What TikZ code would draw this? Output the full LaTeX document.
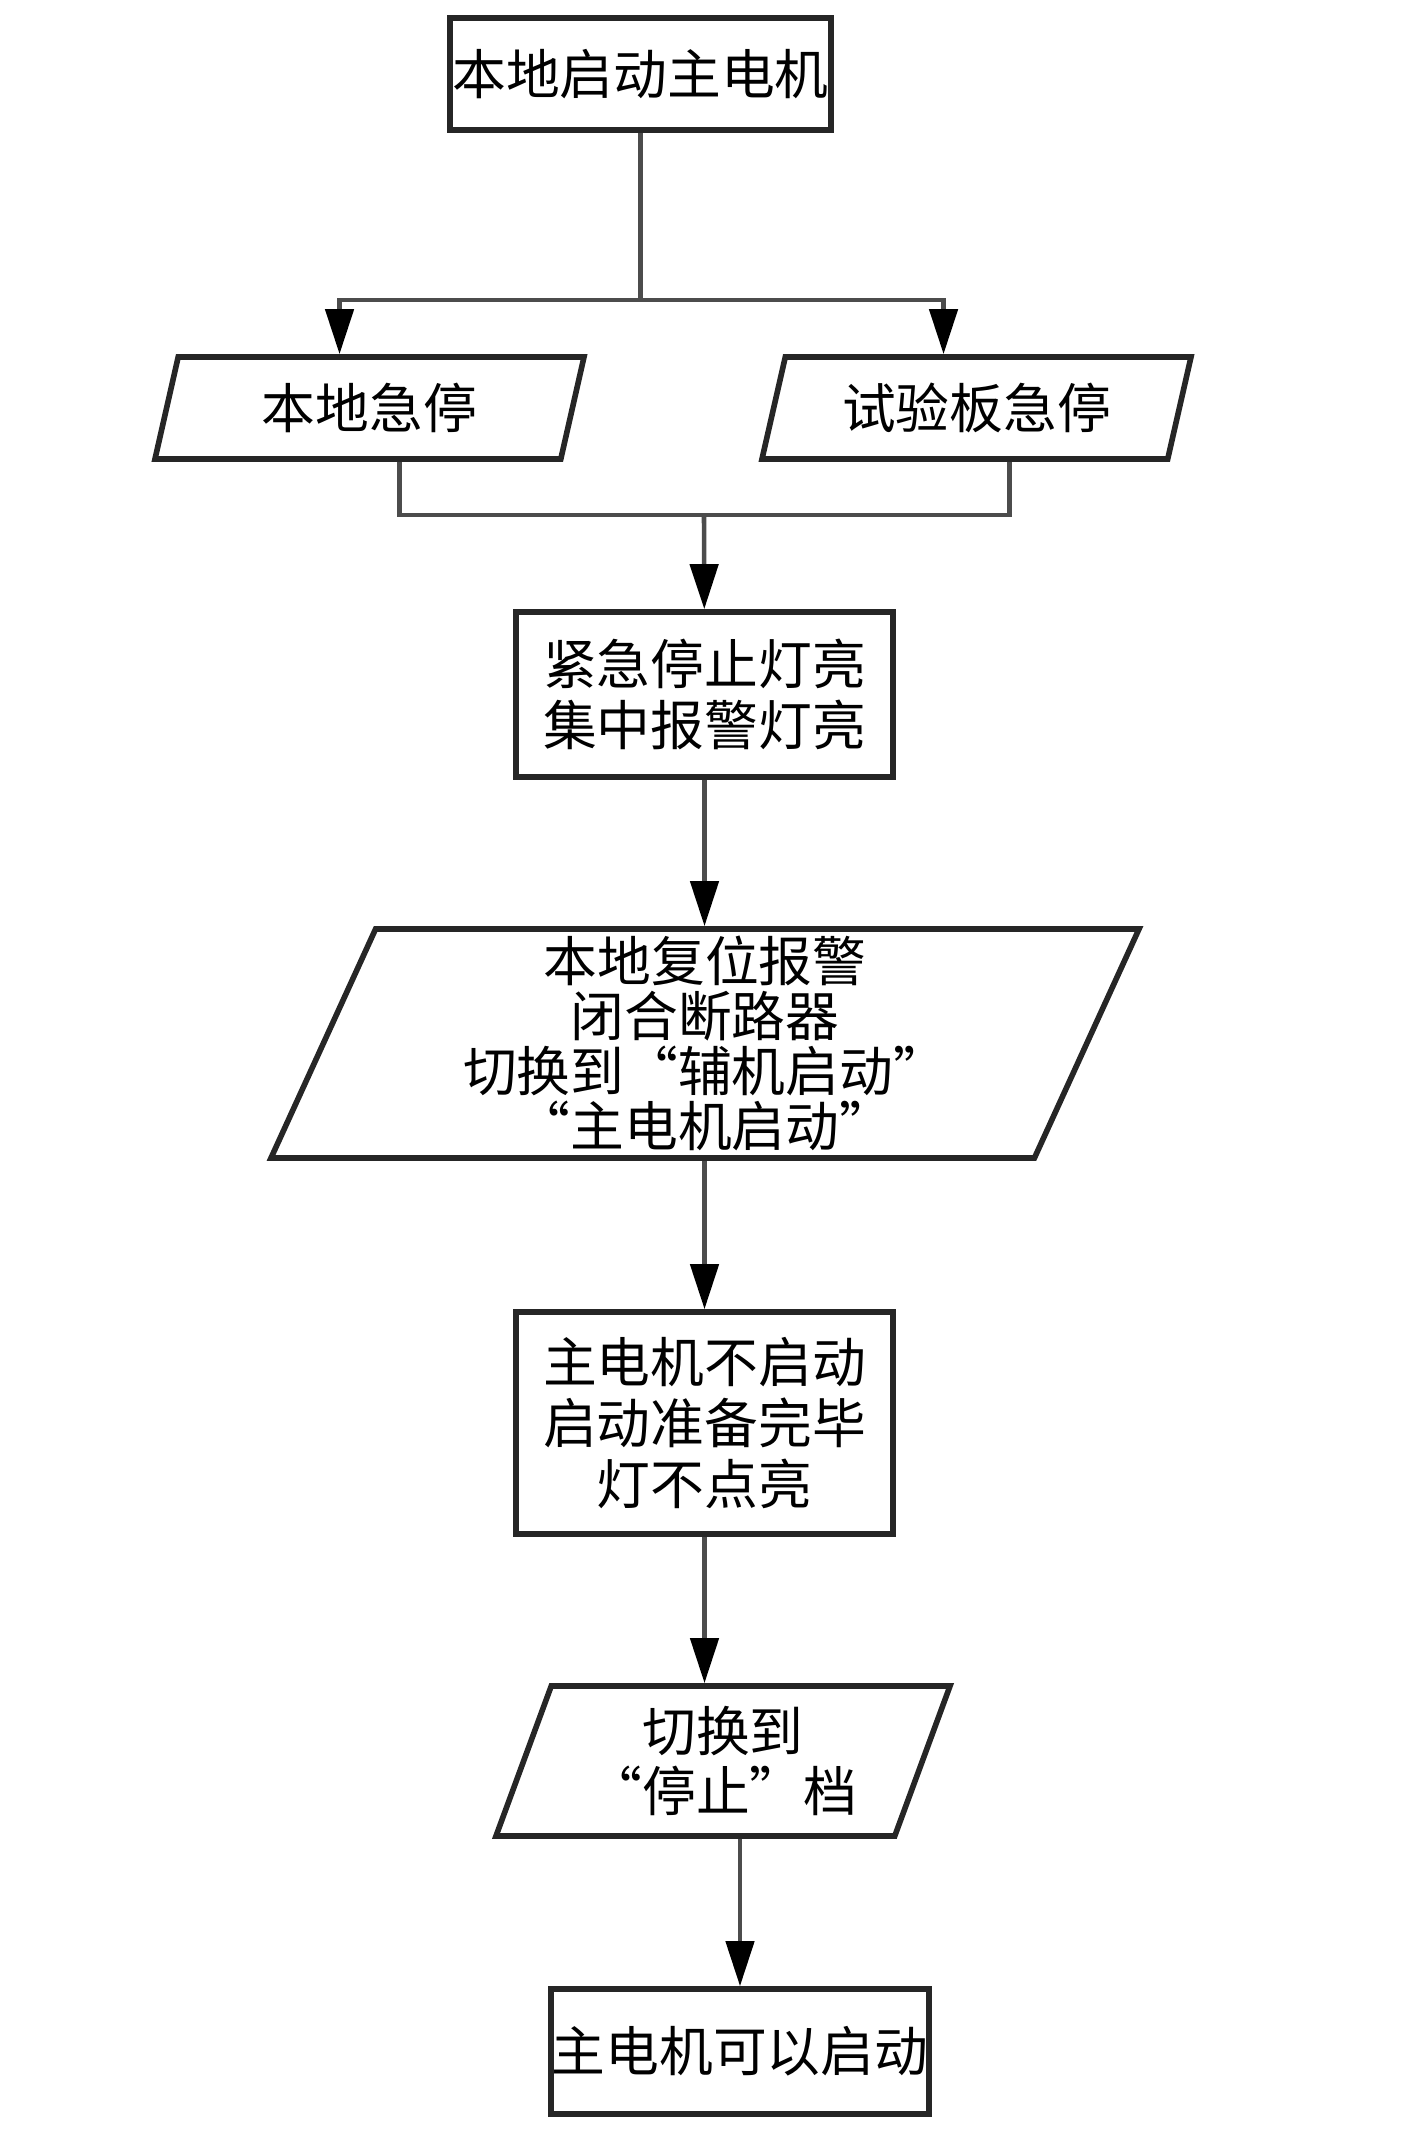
\documentclass[tikz,border=0pt]{standalone}
\usepackage{fontspec}
\setmainfont{Noto Sans CJK SC}
\usetikzlibrary{shapes.geometric,arrows.meta}

\begin{document}
\begin{tikzpicture}[
  font=\fontsize{15.3}{17.3}\selectfont,
  box/.style={draw=black!85, line width=1.6pt, inner sep=0pt, align=center},
  io/.style={draw=black!85, line width=1.6pt, trapezium, trapezium left angle=65,
    trapezium right angle=115, trapezium stretches body, inner sep=0pt, align=center},
  link/.style={draw=black!70, line width=1.3pt},
  flow/.style={link, -{Triangle[length=4.5mm,width=2.8mm,color=black]}},
]
\useasboundingbox (0,0) rectangle (14.15,-21.31);
\node[box, minimum width=3.81cm, minimum height=1.12cm] (start) at (6.405,-0.74) {本地启动主电机};
\node[io, minimum width=4.29cm, minimum height=1.02cm] (lstop) at (3.695,-4.08) {本地急停};
\node[io, minimum width=4.29cm, minimum height=1.02cm] (rstop) at (9.765,-4.08) {试验板急停};
\node[box, minimum width=3.77cm, minimum height=1.65cm] (alarm) at (7.045,-6.945) {紧急停止灯亮\\集中报警灯亮};
\node[io, trapezium left angle=64, trapezium right angle=116, minimum width=8.68cm,
  minimum height=2.29cm, font=\fontsize{15.3}{15.6}\selectfont] (reset) at (7.05,-10.435)
  {本地复位报警\\闭合断路器\\切换到“辅机启动”\\“主电机启动”};
\node[box, minimum width=3.77cm, minimum height=2.22cm] (nostart) at (7.045,-14.23) {主电机不启动\\启动准备完毕\\灯不点亮};
\node[io, trapezium left angle=63.4, trapezium right angle=116.6, minimum width=4.54cm,
  minimum height=1.50cm] (tostop) at (7.23,-17.61) {切换到\\“停止”档};
\node[box, minimum width=3.78cm, minimum height=1.25cm] (ready) at (7.40,-20.515) {主电机可以启动};
\coordinate (split) at (6.405,-3.00);
\coordinate (join) at (7.04,-5.15);
\draw[link] (start) -- (split);
\draw[flow] (split) -| ([xshift=-0.3cm]lstop.north);
\draw[flow] (split) -| ([xshift=-0.33cm]rstop.north);
\draw[link] ([xshift=0.3cm]lstop.south) |- (join);
\draw[link] ([xshift=0.33cm]rstop.south) |- (join);
\draw[flow] (join) -- (alarm);
\draw[flow] (alarm) -- (alarm.south |- reset.north);
\draw[flow] (reset.south -| alarm.south) -- (nostart);
\draw[flow] (nostart) -- (nostart.south |- tostop.north);
\draw[flow] (tostop.south -| ready.north) -- (ready);
\end{tikzpicture}
\end{document}
